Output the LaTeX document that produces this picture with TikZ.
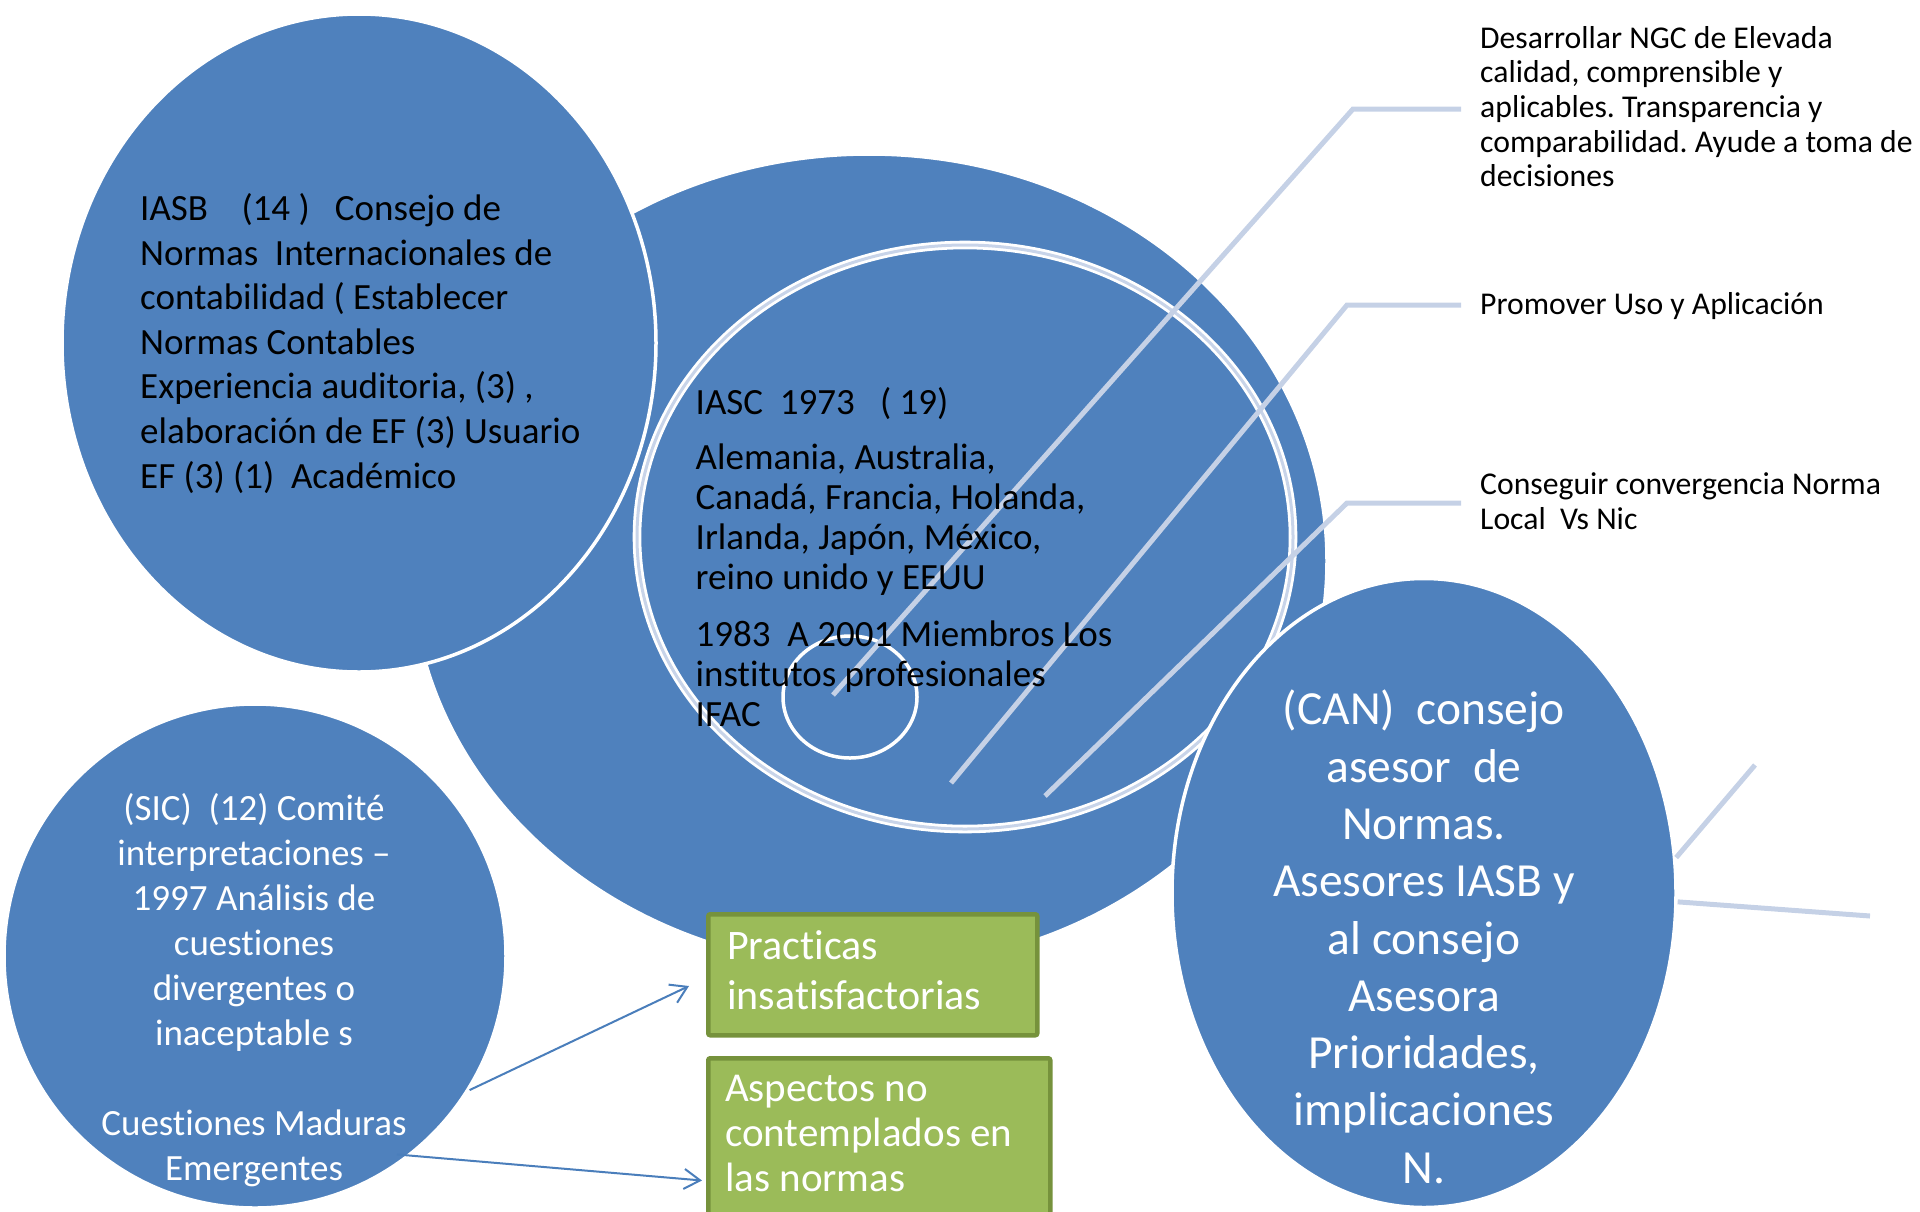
\documentclass[tikz,border=0pt]{standalone}
\usepackage{fontspec}
\setmainfont{Carlito}[Ligatures=NoCommon]
\usetikzlibrary{shapes.geometric,arrows.meta}
\definecolor{cblue}{RGB}{79,129,189}
\definecolor{cring}{RGB}{200,212,233}
\definecolor{cline}{RGB}{197,209,230}
\definecolor{cgreen}{RGB}{155,187,89}
\definecolor{cgreenb}{RGB}{118,146,60}
\definecolor{carrow}{RGB}{74,126,187}
\begin{document}
\frenchspacing
\begin{tikzpicture}[x=1pt,y=-1pt,
  blob/.style={ellipse, fill=cblue, draw=white, line width=3.5pt, inner sep=0pt},
  ringst/.style={ellipse, draw=white, line width=2.8pt, double=cring, double distance=3pt, inner sep=0pt},
  smallc/.style={ellipse, draw=white, line width=3.5pt, inner sep=0pt},
  gbox/.style={rectangle, rounded corners=2pt, fill=cgreen, draw=cgreenb, line width=4.5pt, inner sep=0pt, anchor=north west},
  txt/.style={inner sep=0pt, anchor=base west, text=black},
  wtxt/.style={inner sep=0pt, anchor=base west, text=white},
  ctxt/.style={inner sep=0pt, anchor=base, text=white},
  cl/.style={draw=cline, line width=5pt},
  arr/.style={draw=carrow, line width=2pt, -{Straight Barb[length=16pt,width=20pt,line width=2pt]}}
]
\clip (0,0) rectangle (1920,1211);
\useasboundingbox (0,0) rectangle (1920,1211);

% circles
\node[blob, minimum width=916pt, minimum height=814pt] (big) at (869,561) {};
\node[blob, minimum width=594pt, minimum height=658pt] (iasb) at (359,343) {};
\node[ringst, minimum width=656pt, minimum height=584pt] (ring) at (965,537) {};
\node[smallc, minimum width=134pt, minimum height=122pt] (small) at (850,697) {};

% right texts
\node[txt] (t1) at (1480,48.2) {\fontsize{31.7}{34.6}\selectfont\begin{tabular}[t]{@{}l@{}}
Desarrollar NGC de Elevada\\
calidad, comprensible y\\
aplicables. Transparencia y\\
comparabilidad. Ayude a toma de\\
decisiones\end{tabular}};
\node[txt] (t2) at (1480,314.3) {\fontsize{31.7}{34.6}\selectfont Promover Uso y Aplicación};
\node[txt] (t3) at (1480,494.6) {\fontsize{31.7}{34.6}\selectfont\begin{tabular}[t]{@{}l@{}}
Conseguir convergencia Norma\\
Local\ \ Vs Nic\end{tabular}};

% callout lines
\coordinate (c1s) at (833,695);
\coordinate (c1k) at (1353,109);
\coordinate (c2s) at (951,783);
\coordinate (c2k) at (1347,305);
\coordinate (c3s) at (1045,796);
\coordinate (c3k) at (1347,503);
\draw[cl, shorten >=19pt] (c1s) -- (c1k) -- (c1k -| t1.west);
\draw[cl, shorten >=19pt] (c2s) -- (c2k) -- (c2k -| t2.west);
\draw[cl, shorten >=19pt] (c3s) -- (c3k) -- (c3k -| t3.west);

% IASB text
\node[txt] (iasbt) at (140,220.4) {\fontsize{37}{44.6}\selectfont\begin{tabular}[t]{@{}l@{}}
IASB\ \ \ \ (14 )\ \ \ Consejo de\\
Normas\ \ Internacionales de\\
contabilidad ( Establecer\\
Normas Contables\\
Experiencia auditoria, (3) ,\\
elaboración de EF (3) Usuario\\
EF (3) (1)\ \ Académico\end{tabular}};

% IASC text
\node[txt] (iasct) at (695.5,414.4) {\fontsize{37}{40}\selectfont\begin{tabular}[t]{@{}l@{}}
IASC\ \ 1973\ \ \ ( 19)\\[15pt]
Alemania, Australia,\\
Canadá, Francia, Holanda,\\
Irlanda, Japón, México,\\
reino unido y EEUU\\[17.5pt]
1983\ \ A 2001 Miembros Los\\
institutos profesionales\\
IFAC\end{tabular}};

% CAN circle
\node[blob, minimum width=504pt, minimum height=629pt] (can) at (1424,893) {};
\coordinate (e1) at (1755,765);
\coordinate (e2) at (1870,916);
\draw[cl] (can.8) -- (e1);
\draw[cl] (can.-2) -- (e2);
\node[ctxt] (cant) at (1424,724.8) {\fontsize{47.5}{57.3}\selectfont\begin{tabular}[t]{@{}c@{}}
(CAN)\ \ consejo\\
asesor\ \ de\\
Normas.\\
Asesores IASB y\\
al consejo\\
Asesora\\
Prioridades,\\
implicaciones\\
N.\end{tabular}};

% SIC circle
\node[blob, minimum width=502pt, minimum height=504pt] (sic) at (255,956) {};
\node[ctxt] (sict) at (254,820.4) {\fontsize{37}{45}\selectfont\begin{tabular}[t]{@{}c@{}}
(SIC)\ \ (12) Comité\\
interpretaciones –\\
1997 Análisis de\\
cuestiones\\
divergentes o\\
inaceptable s\\
\\
Cuestiones Maduras\\
Emergentes\end{tabular}};

% green boxes
\node[gbox, minimum width=329pt, minimum height=121pt] (box1) at (706,912) {};
\node[wtxt] (box1t) at (727,959) {\fontsize{42}{50.5}\selectfont\begin{tabular}[t]{@{}l@{}}
Practicas\\
insatisfactorias\end{tabular}};
\node[gbox, minimum width=342pt, minimum height=220pt] (box2) at (706,1056) {};
\node[wtxt] (box2t) at (725,1101.5) {\fontsize{41}{45}\selectfont\begin{tabular}[t]{@{}l@{}}
Aspectos no\\
contemplados en\\
las normas\end{tabular}};

% arrows
\coordinate (a1e) at (689,986);
\coordinate (a2e) at (702,1180.5);
\draw[arr] (sic.-32) -- (a1e);
\draw[arr, shorten <=-14pt] (sic.-52) -- (a2e);
\end{tikzpicture}
\end{document}
